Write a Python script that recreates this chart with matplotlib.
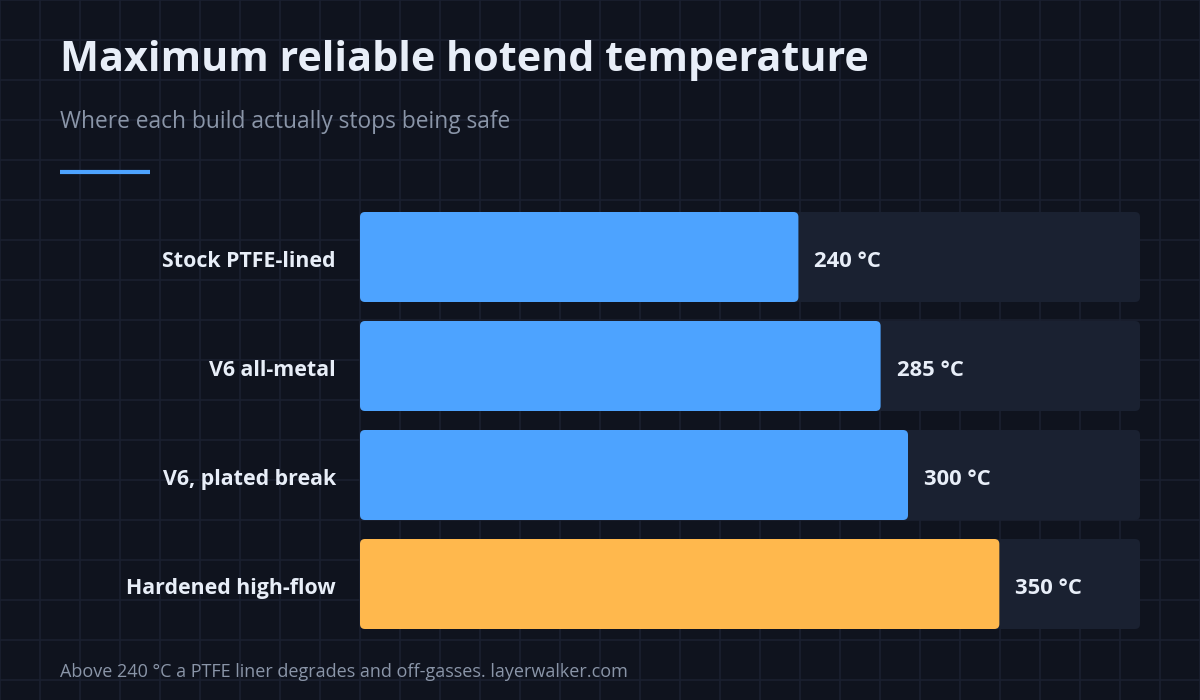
import matplotlib
matplotlib.use("Agg")
import matplotlib.pyplot as plt
from matplotlib.patches import FancyBboxPatch

builds = ["Stock PTFE-lined", "V6 all-metal", "V6, plated break", "Hardened high-flow"]
max_temp = [240, 285, 300, 350]
highlight = [False, False, False, True]
value_labels = ["240 °C", "285 °C", "300 °C", "350 °C"]

title = "Maximum reliable hotend temperature"
subtitle = "Where each build actually stops being safe"
footer = "Above 240 °C a PTFE liner degrades and off-gasses. layerwalker.com"

BG = "#0f131e"
GRID = "#1a2030"
TRACK = "#1a2131"
BLUE = "#4da3ff"
ORANGE = "#ffb84d"
WHITE = "#e8eef8"
GREY = "#8a95a8"
FONT = ["Open Sans", "DejaVu Sans"]

W, H = 1200, 700
fig = plt.figure(figsize=(12, 7), dpi=100, facecolor=BG)

# faint background grid, 40px cells
bg = fig.add_axes([0, 0, 1, 1])
bg.set_xlim(0, W)
bg.set_ylim(H, 0)
bg.axis("off")
bg.set_facecolor(BG)
for g in range(0, W + 1, 40):
    bg.axvline(g, color=GRID, lw=1.2, zorder=0)
for g in range(0, H + 1, 40):
    bg.axhline(g, color=GRID, lw=1.2, zorder=0)

# header
fig.text(60 / W, 1 - 71 / H, title, fontsize=29.7, fontweight="bold", color=WHITE,
         family=FONT, va="baseline", ha="left")
fig.text(60 / W, 1 - 128 / H, subtitle, fontsize=16.4, color=GREY,
         family=FONT, va="baseline", ha="left")
bg.plot([60, 150], [171.5, 171.5], color=BLUE, lw=3, solid_capstyle="butt")

# bar area
x_max = 427
left_px, right_px = 360, 1140
top_px, bot_px = 202.5, 638.5
ax = fig.add_axes([left_px / W, 1 - bot_px / H, (right_px - left_px) / W, (bot_px - top_px) / H])
ax.set_xlim(0, x_max)
ax.set_ylim(len(builds) - 0.5, -0.5)
ax.axis("off")

bar_h = 90 / 109
x_per_px = x_max / (right_px - left_px)
y_per_px = 1 / 109
aspect = y_per_px / x_per_px
r = 5 * x_per_px

for i, (name, v, hl, lab) in enumerate(zip(builds, max_temp, highlight, value_labels)):
    y0 = i - bar_h / 2
    ax.add_patch(FancyBboxPatch((0, y0), x_max, bar_h,
                                boxstyle=f"round,pad=0,rounding_size={r}",
                                mutation_aspect=aspect, fc=TRACK, ec="none", zorder=1))
    ax.add_patch(FancyBboxPatch((0, y0), v, bar_h,
                                boxstyle=f"round,pad=0,rounding_size={r}",
                                mutation_aspect=aspect, fc=ORANGE if hl else BLUE,
                                ec="none", zorder=2))
    ax.annotate(name, (0, i), xytext=(-24 * 0.72, -1.4), textcoords="offset points",
                ha="right", va="center_baseline", fontsize=15.4, fontweight="bold",
                color=WHITE, family=FONT, annotation_clip=False)
    ax.annotate(lab, (v, i), xytext=(16 * 0.72, -1.4), textcoords="offset points",
                ha="left", va="center_baseline", fontsize=15.8, fontweight="bold",
                color=WHITE, family=FONT, annotation_clip=False)

fig.text(60 / W, 1 - 677 / H, footer, fontsize=13, color=GREY,
         family=FONT, va="baseline", ha="left")

fig.savefig("out.png", dpi=100, facecolor=BG)
